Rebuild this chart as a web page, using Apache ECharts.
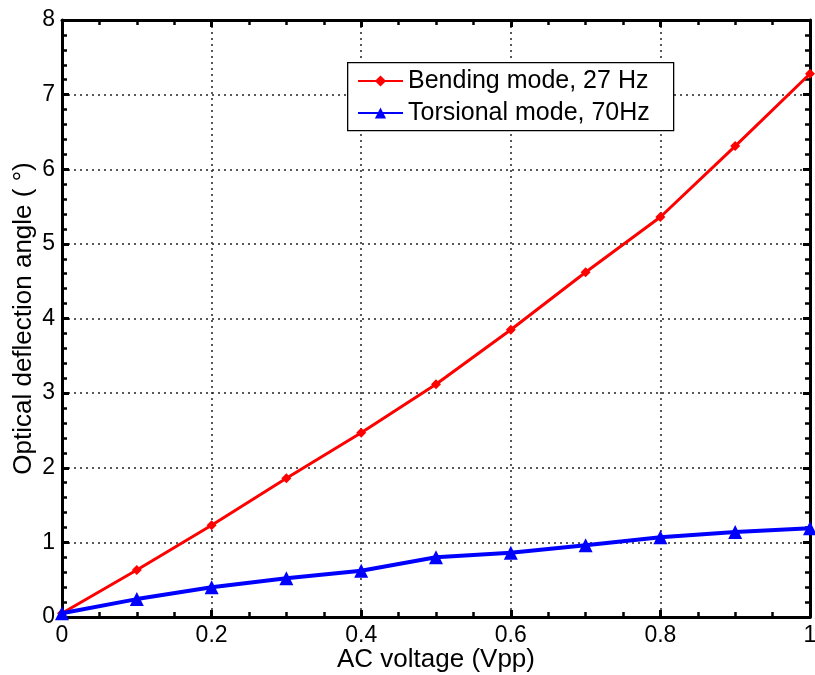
<!DOCTYPE html>
<html>
<head>
<meta charset="utf-8">
<script src="https://cdn.jsdelivr.net/npm/echarts@6/dist/echarts.min.js"></script>
<style>
  html, body { margin: 0; padding: 0; background: #fff; }
  #chart { width: 815px; height: 675px; }
</style>
</head>
<body>
<div id="chart"></div>
<script>
// Drive voltage (Vpp) and measured optical deflection angle (degrees)
const voltage = [0, 0.1, 0.2, 0.3, 0.4, 0.5, 0.6, 0.7, 0.8, 0.9, 1.0];
const bendingAngle = [0.05, 0.63, 1.23, 1.86, 2.47, 3.12, 3.85, 4.62, 5.36, 6.31, 7.28];
const torsionalAngle = [0.05, 0.24, 0.40, 0.52, 0.62, 0.80, 0.86, 0.96, 1.07, 1.14, 1.19];
const seriesNames = ['Bending mode, 27 Hz', 'Torsional mode, 70Hz'];
const xTitle = 'AC voltage (Vpp)';
const yTitle = 'Optical deflection angle ( °)';

const font = 'Liberation Sans, Arial, sans-serif';

function pairs(xs, ys) { return xs.map((x, i) => [x, ys[i]]); }

const axisLine = { show: true, onZero: false, lineStyle: { color: '#000', width: 3 } };
const tick = { show: true, inside: true, length: 7, lineStyle: { color: '#000', width: 3 } };
const minor = { show: true, length: 5, lineStyle: { color: '#000', width: 2.5 } };
const grid = { show: true, lineStyle: { color: '#222', type: [2, 4], width: 1.5 } };

const chart = echarts.init(document.getElementById('chart'), null, { renderer: 'canvas' });
chart.setOption({
  backgroundColor: '#fff',
  animation: false,
  grid: { left: 62, top: 20, right: 5, bottom: 58, containLabel: false, outerBoundsMode: 'none' },
  graphic: [{
    // legend frame
    type: 'rect', left: 347, top: 62, z: 90,
    shape: { width: 326, height: 68 },
    style: { fill: '#fff', stroke: '#000', lineWidth: 1.3 }
  }],
  legend: {
    data: seriesNames,
    orient: 'vertical',
    left: 357, top: 66, z: 100,
    itemWidth: 45, itemHeight: 14, itemGap: 2,
    padding: 0,
    textStyle: { fontFamily: font, fontSize: 25, color: '#000', lineHeight: 30, padding: [0, 0, 0, 0] }
  },
  xAxis: [{
    type: 'value', min: 0, max: 1, interval: 0.2,
    name: xTitle, nameLocation: 'middle', nameGap: 30, nameMoveOverlap: false,
    nameTextStyle: { fontFamily: font, fontSize: 26, color: '#000' },
    axisLine, axisTick: tick, minorTick: Object.assign({ splitNumber: 4 }, minor),
    splitLine: grid,
    axisLabel: { fontFamily: font, fontSize: 23, color: '#000', margin: 7,
      formatter: v => String(+v.toFixed(1)) }
  }, {
    type: 'value', min: 0, max: 1, interval: 0.2, position: 'top',
    axisLine, axisTick: tick, minorTick: Object.assign({ splitNumber: 4 }, minor),
    splitLine: { show: false }, axisLabel: { show: false }
  }],
  yAxis: [{
    type: 'value', min: 0, max: 8, interval: 1,
    name: yTitle, nameLocation: 'middle', nameGap: 25, nameMoveOverlap: false,
    nameTextStyle: { fontFamily: font, fontSize: 26, color: '#000' },
    axisLine, axisTick: tick, minorTick: Object.assign({ splitNumber: 5 }, minor),
    splitLine: grid,
    axisLabel: { fontFamily: font, fontSize: 23, color: '#000', margin: 7 }
  }, {
    type: 'value', min: 0, max: 8, interval: 1, position: 'right',
    axisLine, axisTick: tick, minorTick: Object.assign({ splitNumber: 5 }, minor),
    splitLine: { show: false }, axisLabel: { show: false }
  }],
  series: [{
    name: seriesNames[0], type: 'line',
    data: pairs(voltage, bendingAngle),
    color: '#ff0000',
    lineStyle: { width: 3, color: '#ff0000' },
    symbol: 'diamond', symbolSize: 10, showAllSymbol: true,
    itemStyle: { color: '#ff0000' }, z: 3
  }, {
    name: seriesNames[1], type: 'line',
    data: pairs(voltage, torsionalAngle),
    color: '#0000ff',
    lineStyle: { width: 4, color: '#0000ff' },
    symbol: 'triangle', symbolSize: 14, showAllSymbol: true,
    itemStyle: { color: '#0000ff' }, z: 4
  }]
});
</script>
</body>
</html>
